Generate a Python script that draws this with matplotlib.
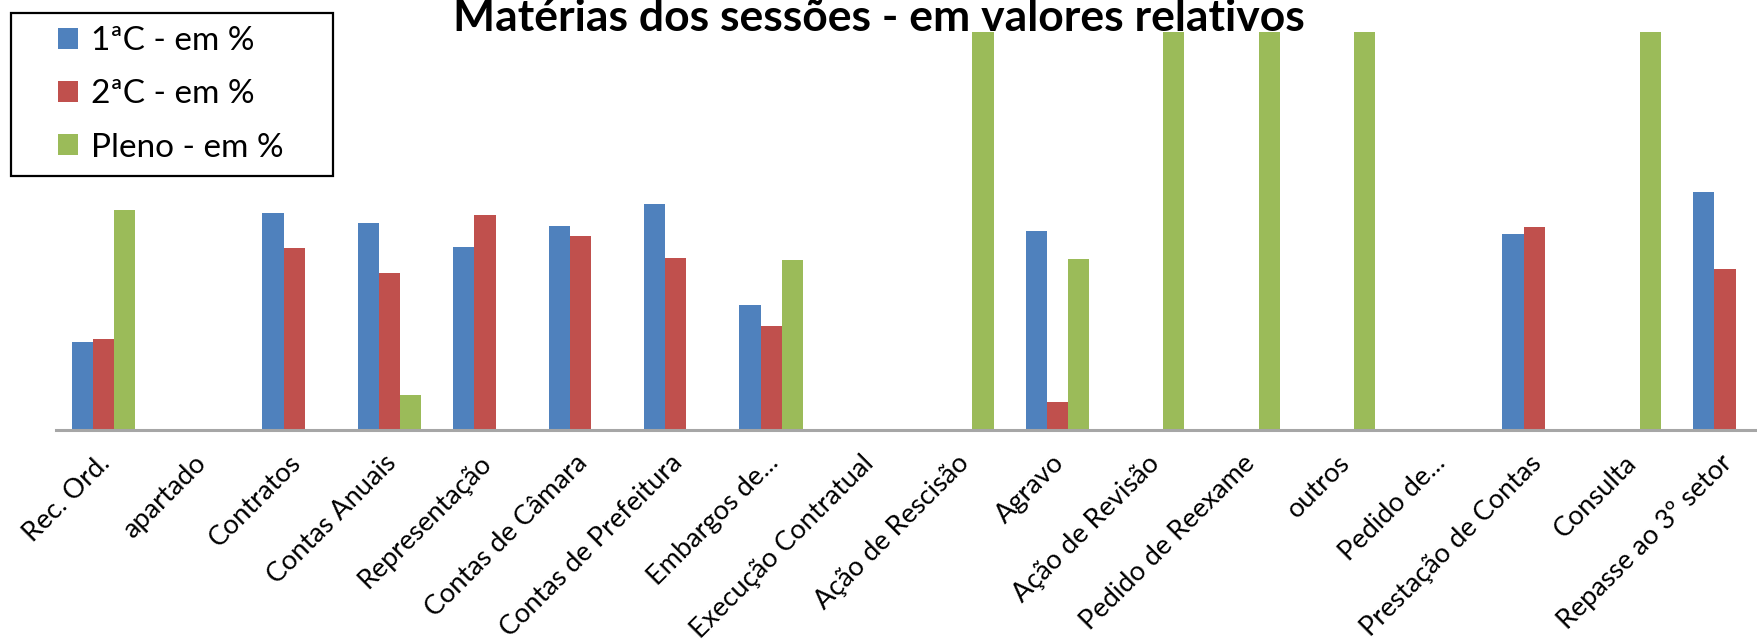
import numpy as np
import matplotlib
matplotlib.use("Agg")
import matplotlib.pyplot as plt
import matplotlib.transforms as mtransforms
from matplotlib.patches import Rectangle

plt.rcParams['font.family'] = ['Lato', 'DejaVu Sans']

categorias = ["Rec. Ord.", "apartado", "Contratos", "Contas Anuais", "Representação",
              "Contas de Câmara", "Contas de Prefeitura", "Embargos de...",
              "Execução Contratual", "Ação de Rescisão", "Agravo", "Ação de Revisão",
              "Pedido de Reexame", "outros", "Pedido de...", "Prestação de Contas",
              "Consulta", "Repasse ao 3º setor"]

c1 = [22.0, 0, 54.4, 51.9, 46.0, 51.3, 56.8, 31.3, 0, 0, 50.0, 0, 0, 0, 0, 49.1, 0, 59.7]
c2 = [22.9, 0, 45.6, 39.3, 54.0, 48.7, 43.2, 26.0, 0, 0, 7.1, 0, 0, 0, 0, 50.9, 0, 40.3]
pleno = [55.1, 0, 0, 8.8, 0, 0, 0, 42.7, 0, 100, 42.9, 100, 100, 100, 0, 0, 100, 0]

series = ["1ªC - em %", "2ªC - em %", "Pleno - em %"]
cores = ["#4F81BD", "#C0504D", "#9BBB59"]

W, H = 1758, 644
fig = plt.figure(figsize=(W / 100, H / 100), dpi=100)
# plot area: baseline at y=430 px, 100% at y=31.5 px, x from 55.7 to 1772.7 px
ax = fig.add_axes([55.7 / W, (H - 430) / H, 1717 / W, (430 - 31.5) / H])

x = np.arange(len(categorias))
bw = 0.222
for i, (vals, nome, cor) in enumerate(zip([c1, c2, pleno], series, cores)):
    ax.bar(x + (i - 1) * bw, vals, width=bw, color=cor, label=nome, zorder=2)

ax.set_xlim(-0.5, len(categorias) - 0.5)
ax.set_ylim(0, 100)
for s in ["top", "right", "left"]:
    ax.spines[s].set_visible(False)
ax.spines["bottom"].set_color("#A6A6A6")
ax.spines["bottom"].set_linewidth(2.2)
ax.set_yticks([])
ax.set_xticks(x)
ax.set_xticklabels(categorias, rotation=45, ha="right", va="center",
                   rotation_mode="anchor", fontsize=19.5)
ax.tick_params(axis="x", length=0, pad=21)
shift = mtransforms.ScaledTranslation(3 / 100, 0, fig.dpi_scale_trans)
for lbl in ax.get_xticklabels():
    lbl.set_transform(lbl.get_transform() + shift)

fig.text(0.5, 1 - 31 / H, "Matérias dos sessões - em valores relativos",
         ha="center", va="baseline", fontsize=32, fontweight="bold")

# legend box drawn separately so its size follows the reference
fig.patches.append(Rectangle((11 / W, 1 - 176 / H), 322 / W, 163 / H,
                             transform=fig.transFigure, fill=False,
                             edgecolor="black", linewidth=1.6))
leg = fig.legend(loc="upper left", bbox_to_anchor=(58 / W, 1 - 26 / H),
                 bbox_transform=fig.transFigure, fontsize=24, frameon=False,
                 handlelength=0.6, handleheight=0.6, handletextpad=0.4,
                 labelspacing=0.7, borderpad=0, borderaxespad=0)

fig.savefig("out.png", dpi=100)
